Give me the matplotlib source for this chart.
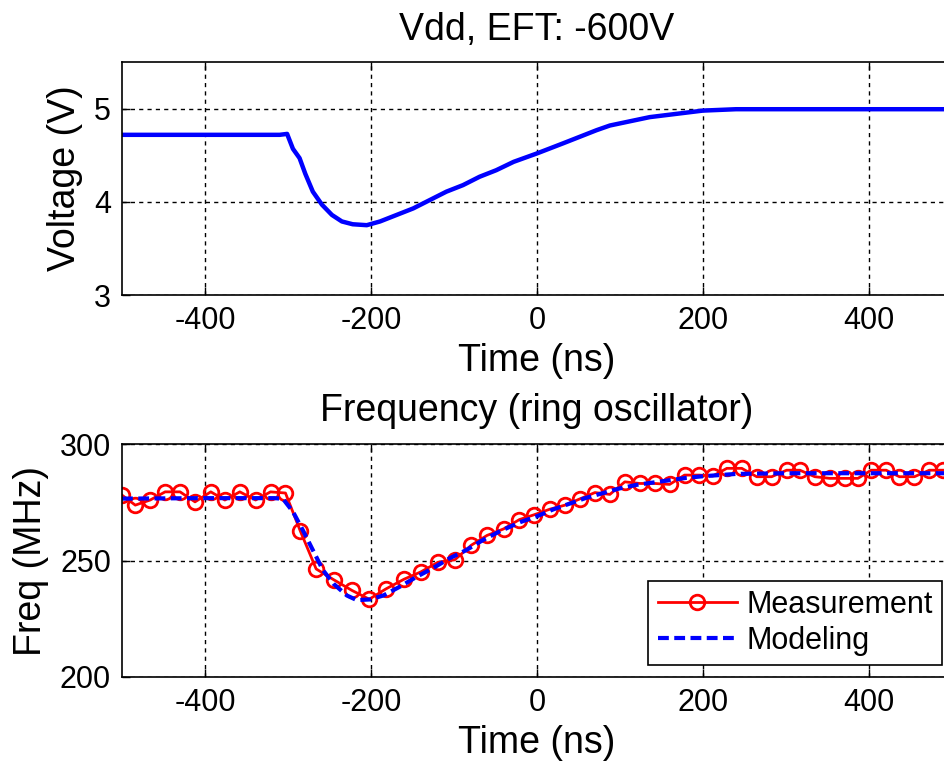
"""
Vdd droop during an EFT pulse (-600 V) and the resulting ring-oscillator
frequency, measured vs. modelled. Values read off the original figure.
"""

import matplotlib
matplotlib.use('Agg')
import matplotlib.pyplot as plt

plt.rcParams['font.family'] = ['Liberation Sans', 'DejaVu Sans']
plt.rcParams['axes.unicode_minus'] = False   # plain hyphen, as in the original

# --- top panel: supply voltage trace ---------------------------------------
v_time = [-500, -400, -310, -301, -294, -286, -279, -270, -259, -247, -235,
          -222, -205, -189, -169, -149, -129, -109, -89, -69, -49, -28, 0,
          32, 52, 72, 88, 136, 200, 240, 300, 400, 500]
v_volt = [4.72, 4.72, 4.72, 4.73, 4.57, 4.47, 4.30, 4.11, 3.97, 3.86, 3.79,
          3.76, 3.75, 3.79, 3.86, 3.93, 4.02, 4.11, 4.18, 4.27, 4.34, 4.43, 4.52,
          4.63, 4.70, 4.77, 4.82, 4.91, 4.98, 4.995, 4.995, 4.995, 4.995]

# --- bottom panel: ring oscillator frequency --------------------------------
meas_time = [-500, -484, -466, -448, -430, -412, -393, -376, -358, -339, -321,
             -303, -285, -266, -245, -223, -202, -182, -160, -140, -119, -99,
             -79, -60, -40, -21, -3, 16, 34, 52, 70, 88, 106, 124, 142, 160,
             178, 196, 212, 229, 247, 265, 283, 301, 317, 335, 353, 371, 387,
             403, 421, 437, 455, 473, 489]
meas_freq = [278.1, 273.8, 276.0, 279.5, 279.5, 275.2, 279.5, 276.0, 279.5,
             276.0, 279.5, 279.0, 262.6, 246.4, 241.8, 237.2, 233.4, 237.8,
             242.0, 245.1, 249.3, 250.3, 256.6, 260.8, 263.6, 267.6, 269.7,
             272.1, 273.8, 276.5, 279.2, 278.4, 283.8, 283.1, 283.1, 282.7,
             286.7, 286.7, 286.3, 289.6, 289.6, 286.0, 286.0, 288.8, 288.8,
             286.0, 285.3, 285.3, 285.3, 288.8, 288.8, 286.0, 286.0, 288.8,
             288.8]

model_time = [-500, -400, -316, -306, -294, -282, -270, -258, -245, -229,
              -217, -201, -185, -165, -145, -125, -105, -85, -65, -45, -20, 0,
              20, 40, 60, 80, 100, 120, 140, 160, 180, 200, 240, 300, 400, 500]
model_freq = [276.6, 276.8, 276.8, 276.5, 271.0, 263.0, 254.5, 246.0, 240.0,
              235.0, 233.0, 233.3, 235.0, 238.8, 243.0, 246.8, 251.0, 254.5,
              258.8, 262.5, 266.5, 269.0, 272.0, 274.5, 277.0, 279.0, 281.0,
              282.5, 283.5, 284.5, 285.5, 286.2, 287.2, 287.5, 287.5, 287.5]

TIME_TICKS = [-400, -200, 0, 200, 400]
TICK_FS = 22
LABEL_FS = 27


def style_axes(ax):
    ax.set_xlim(-500, 500)
    ax.set_xticks(TIME_TICKS)
    ax.grid(True, color='black', linestyle=(0, (3, 3)), linewidth=1.0)
    ax.tick_params(direction='in', length=6, width=1, labelsize=TICK_FS,
                   top=True, right=True, pad=8)
    for sp in ax.spines.values():
        sp.set_linewidth(1.2)
    ax.set_xlabel('Time (ns)', fontsize=LABEL_FS, labelpad=5)


if __name__ == '__main__':
    fig = plt.figure(figsize=(9.45, 7.61), dpi=100)

    # right edge intentionally past the canvas, like the cropped original
    ax1 = fig.add_axes([0.1291, 0.6123, 0.878, 0.306])
    ax1.plot(v_time, v_volt, color='#0000ff', linewidth=3.2)
    ax1.set_ylim(3, 5.5)
    ax1.set_yticks([3, 4, 5])
    style_axes(ax1)
    ax1.set_ylabel('Voltage (V)', fontsize=LABEL_FS, labelpad=8)
    ax1.set_title('Vdd, EFT: -600V', fontsize=LABEL_FS, pad=16)

    ax2 = fig.add_axes([0.1291, 0.1104, 0.878, 0.306])
    ax2.plot(meas_time, meas_freq, color='#ff0000', linewidth=2,
             marker='o', markersize=10.5, markerfacecolor='none',
             markeredgewidth=2, label='Measurement')
    ax2.plot(model_time, model_freq, color='#0000ff', linewidth=3,
             dashes=(2.6, 1.3), label='Modeling')
    ax2.set_ylim(200, 300)
    ax2.set_yticks([200, 250, 300])
    style_axes(ax2)
    ax2.set_ylabel('Freq (MHz)', fontsize=LABEL_FS, labelpad=8)
    ax2.set_title('Frequency (ring oscillator)', fontsize=LABEL_FS, pad=17)

    leg = ax2.legend(loc='lower right', bbox_to_anchor=(0.988, 0.0515),
                     fontsize=TICK_FS, fancybox=False, framealpha=1,
                     edgecolor='black', handlelength=2.6, handletextpad=0.3,
                     borderpad=0.3, labelspacing=0.2, borderaxespad=0)
    leg.get_frame().set_linewidth(1.2)

    fig.savefig('out.png', dpi=100)
